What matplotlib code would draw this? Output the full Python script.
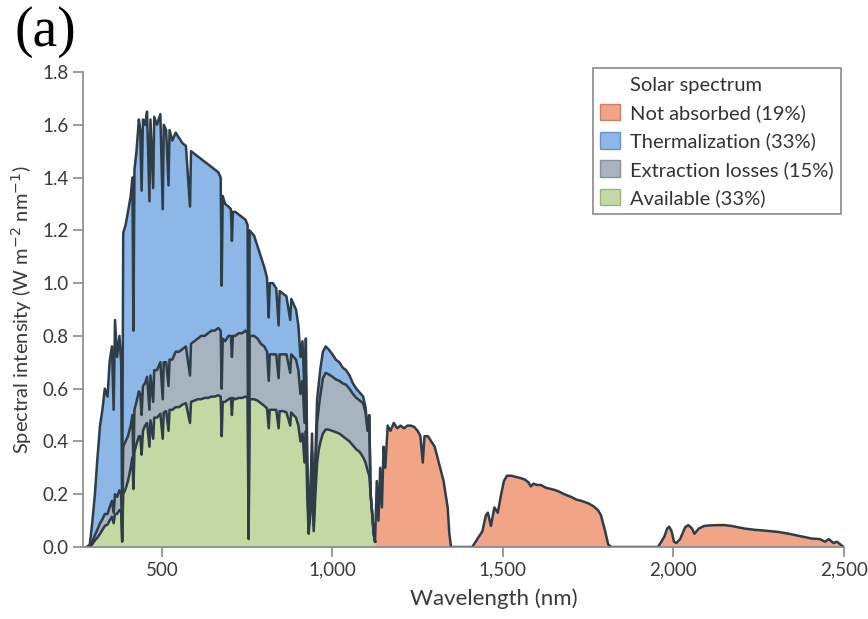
import matplotlib.pyplot as plt
from matplotlib.patches import Patch
import numpy as np

# wavelengths (nm) below the band edge, with the three stacked curves
wl_vis = [280, 288, 295, 303, 310, 318, 325, 332, 340, 346, 353, 358, 362, 368, 375, 380, 383, 386, 393, 400,
          408, 413, 416, 419, 425, 432, 436, 440, 444, 450, 456, 463, 466, 474, 477, 485, 495, 502, 505, 512,
          519, 522, 530, 540, 550, 560, 570, 582, 585, 595, 605, 615, 625, 635, 645, 655, 665, 672, 675, 678,
          685, 695, 702, 705, 708, 715, 725, 735, 745, 751, 754, 757, 763, 770, 780, 790, 800, 808, 813, 816,
          825, 835, 842, 845, 855, 865, 876, 879, 886, 893, 900, 906, 912, 918, 922, 926, 930, 935, 940, 945,
          950, 955, 960, 965, 972, 980, 988, 1000, 1010, 1020, 1030, 1040, 1050, 1060, 1070, 1080, 1090, 1097,
          1103, 1108, 1112, 1117, 1121, 1125]
total_vis = [0, 0.01, 0.09, 0.2, 0.33, 0.46, 0.52, 0.6, 0.57, 0.7, 0.76, 0.52, 0.86, 0.72, 0.8, 0.7, 0.08, 1.19, 1.22, 1.27,
             1.33, 1.40, 0.82, 1.43, 1.50, 1.62, 1.58, 1.35, 1.62, 1.60, 1.65, 1.31, 1.62, 1.36, 1.63, 1.60, 1.64, 1.28, 1.60, 1.58,
             1.37, 1.58, 1.54, 1.57, 1.55, 1.53, 1.52, 1.29, 1.50, 1.49, 1.48, 1.47, 1.46, 1.45, 1.44, 1.43, 1.42, 1.40, 0.99, 1.33,
             1.30, 1.29, 1.28, 1.16, 1.27, 1.27, 1.26, 1.25, 1.24, 1.22, 0.06, 1.20, 1.19, 1.18, 1.14, 1.10, 1.06, 1.02, 0.87, 1.00,
             1.00, 0.98, 0.84, 0.97, 0.96, 0.95, 0.86, 0.94, 0.92, 0.90, 0.84, 0.72, 0.78, 0.58, 0.79, 0.35, 0.09, 0.2, 0.43, 0.10,
             0.35, 0.56, 0.62, 0.68, 0.74, 0.76, 0.75, 0.73, 0.71, 0.70, 0.68, 0.67, 0.65, 0.62, 0.60, 0.585, 0.57, 0.53,
             0.45, 0.50, 0.2, 0.12, 0.05, 0.02]
extract_vis = [0, 0, 0.02, 0.045, 0.065, 0.09, 0.105, 0.125, 0.125, 0.15, 0.175, 0.13, 0.2, 0.19, 0.215, 0.2, 0.03, 0.38, 0.40, 0.42,
               0.46, 0.5, 0.31, 0.52, 0.55, 0.59, 0.58, 0.5, 0.61, 0.62, 0.645, 0.52, 0.65, 0.55, 0.67, 0.67, 0.70, 0.56, 0.70, 0.70,
               0.61, 0.71, 0.71, 0.74, 0.74, 0.75, 0.76, 0.65, 0.77, 0.78, 0.79, 0.80, 0.80, 0.81, 0.82, 0.82, 0.83, 0.82, 0.60, 0.79,
               0.78, 0.80, 0.80, 0.72, 0.80, 0.80, 0.81, 0.81, 0.82, 0.81, 0.04, 0.80, 0.80, 0.80, 0.79, 0.77, 0.76, 0.74, 0.63, 0.73,
               0.73, 0.73, 0.64, 0.73, 0.73, 0.73, 0.66, 0.73, 0.72, 0.71, 0.67, 0.58, 0.63, 0.47, 0.65, 0.29, 0.07, 0.17, 0.36, 0.08,
               0.29, 0.47, 0.53, 0.58, 0.64, 0.66, 0.655, 0.645, 0.635, 0.63, 0.62, 0.615, 0.60, 0.58, 0.565, 0.555, 0.545, 0.51,
               0.44, 0.49, 0.2, 0.12, 0.05, 0.02]
avail_vis = [0, 0, 0.01, 0.025, 0.035, 0.05, 0.065, 0.08, 0.085, 0.1, 0.115, 0.09, 0.125, 0.125, 0.14, 0.135, 0.02, 0.2, 0.22, 0.25,
             0.3, 0.34, 0.22, 0.36, 0.39, 0.42, 0.42, 0.35, 0.44, 0.46, 0.47, 0.38, 0.48, 0.41, 0.49, 0.49, 0.505, 0.41, 0.51, 0.515,
             0.44, 0.52, 0.52, 0.53, 0.53, 0.54, 0.545, 0.47, 0.55, 0.555, 0.56, 0.56, 0.565, 0.565, 0.57, 0.57, 0.575, 0.57, 0.42, 0.55,
             0.55, 0.56, 0.565, 0.5, 0.565, 0.56, 0.565, 0.565, 0.57, 0.565, 0.03, 0.56, 0.56, 0.56, 0.555, 0.545, 0.535, 0.525, 0.45, 0.52,
             0.52, 0.52, 0.45, 0.515, 0.515, 0.51, 0.46, 0.51, 0.50, 0.49, 0.46, 0.4, 0.43, 0.32, 0.44, 0.2, 0.05, 0.12, 0.25, 0.06,
             0.2, 0.32, 0.37, 0.4, 0.43, 0.445, 0.445, 0.44, 0.435, 0.43, 0.42, 0.41, 0.40, 0.385, 0.37, 0.36, 0.34, 0.32,
             0.29, 0.27, 0.2, 0.12, 0.05, 0.02]

# wavelengths above the band edge (not absorbed)
wl_ir = [1125, 1130, 1135, 1140, 1145, 1150, 1155, 1162, 1170, 1180, 1190, 1200, 1210, 1220, 1230, 1240, 1250, 1258, 1265, 1270,
         1280, 1290, 1300, 1310, 1320, 1326, 1332, 1338, 1343, 1348, 1410, 1420, 1430, 1440, 1450, 1456, 1465, 1475, 1485, 1495,
         1503, 1512, 1525, 1540, 1555, 1565, 1575, 1582, 1590, 1600, 1612, 1625, 1640, 1650, 1665, 1680, 1700, 1715, 1730, 1750,
         1765, 1779, 1788, 1794, 1800, 1809, 1818, 1955, 1965, 1974, 1982, 1988, 1995, 2002, 2009, 2020, 2035, 2044, 2055, 2062,
         2075, 2091, 2110, 2130, 2150, 2170, 2190, 2209, 2240, 2270, 2309, 2340, 2370, 2406, 2430, 2445, 2456, 2470, 2480, 2490, 2500]
total_ir = [0.02, 0.25, 0.1, 0.3, 0.15, 0.38, 0.3, 0.46, 0.44, 0.47, 0.45, 0.46, 0.45, 0.46, 0.46, 0.455, 0.44, 0.42, 0.32, 0.42,
            0.42, 0.40, 0.38, 0.33, 0.28, 0.25, 0.2, 0.15, 0.05, 0.0, 0.0, 0.02, 0.04, 0.06, 0.12, 0.13, 0.08, 0.15, 0.13, 0.2,
            0.25, 0.27, 0.27, 0.265, 0.26, 0.255, 0.245, 0.23, 0.24, 0.235, 0.235, 0.225, 0.22, 0.217, 0.21, 0.2, 0.19, 0.18, 0.175, 0.166,
            0.155, 0.14, 0.12, 0.09, 0.06, 0.01, 0.0, 0.0, 0.02, 0.04, 0.07, 0.077, 0.06, 0.02, 0.015, 0.03, 0.075, 0.083, 0.07, 0.05,
            0.07, 0.08, 0.082, 0.083, 0.083, 0.08, 0.075, 0.07, 0.065, 0.062, 0.057, 0.05, 0.042, 0.032, 0.03, 0.02, 0.03, 0.015, 0.02, 0.01, 0.0]

labels = ['Not absorbed (19%)', 'Thermalization (33%)', 'Extraction losses (15%)', 'Available (33%)']
colors = ['#f2a487', '#8db7e6', '#a7b4bf', '#c3d8a3']
edges = ['#c9806a', '#6a93c2', '#86929c', '#9db37f']
line_c = '#2e3d48'

plt.rcParams['font.family'] = ['Lato', 'DejaVu Sans']
fig = plt.figure(figsize=(8.68, 6.19), dpi=100)
ax = fig.add_axes([0.0956, 0.1163, 0.8764, 0.7674])

ax.fill_between(wl_ir, 0, total_ir, color=colors[0], lw=0)
ax.fill_between(wl_vis, 0, total_vis, color=colors[1], lw=0)
ax.fill_between(wl_vis, 0, extract_vis, color=colors[2], lw=0)
ax.fill_between(wl_vis, 0, avail_vis, color=colors[3], lw=0)

ax.plot(wl_vis + wl_ir, total_vis + total_ir, color=line_c, lw=1.8, solid_joinstyle='round')
ax.plot(wl_vis, extract_vis, color=line_c, lw=1.8, solid_joinstyle='round')
ax.plot(wl_vis, avail_vis, color=line_c, lw=1.8, solid_joinstyle='round')

ax.set_xlim(268, 2500)
ax.set_ylim(0, 1.8)
ax.set_xticks([500, 1000, 1500, 2000, 2500])
ax.set_xticklabels(['500', '1,000', '1,500', '2,000', '2,500'])
ax.set_yticks(np.arange(0, 1.81, 0.2))
ax.set_yticklabels(['%.1f' % v for v in np.arange(0, 1.81, 0.2)])
for s in ['top', 'right']:
    ax.spines[s].set_visible(False)
for s in ['left', 'bottom']:
    ax.spines[s].set_color('#8a8a8a')
    ax.spines[s].set_linewidth(1.2)
ax.tick_params(colors='#8a8a8a', labelcolor='#3a3a3a', labelsize=13.5, length=7, width=1.2)
ax.set_xlabel('Wavelength (nm)', fontsize=16, color='#3a3a3a', va='top')
ax.xaxis.set_label_coords(0.54, -0.088)
ax.set_ylabel('Spectral intensity (W m$^{-2}$ nm$^{-1}$)', fontsize=14.5, color='#3a3a3a', labelpad=6)

handles = [Patch(facecolor='none', edgecolor='none', label='Solar spectrum')]
handles += [Patch(facecolor=c, edgecolor=e, label=l) for c, e, l in zip(colors, edges, labels)]
leg = ax.legend(handles=handles, loc='upper right', bbox_to_anchor=(0.996, 1.008), fontsize=14.5,
                handlelength=1.0, handleheight=0.9, handletextpad=0.5, labelspacing=0.5,
                borderpad=0.35, borderaxespad=0, fancybox=False, framealpha=1, edgecolor='#8a8a8a')
leg.get_frame().set_linewidth(1.2)
for t in leg.get_texts():
    t.set_color('#333333')

fig.text(0.017, 0.99, '(a)', family='Liberation Serif', fontsize=40, va='top', ha='left')

fig.savefig('out.png', dpi=100)
